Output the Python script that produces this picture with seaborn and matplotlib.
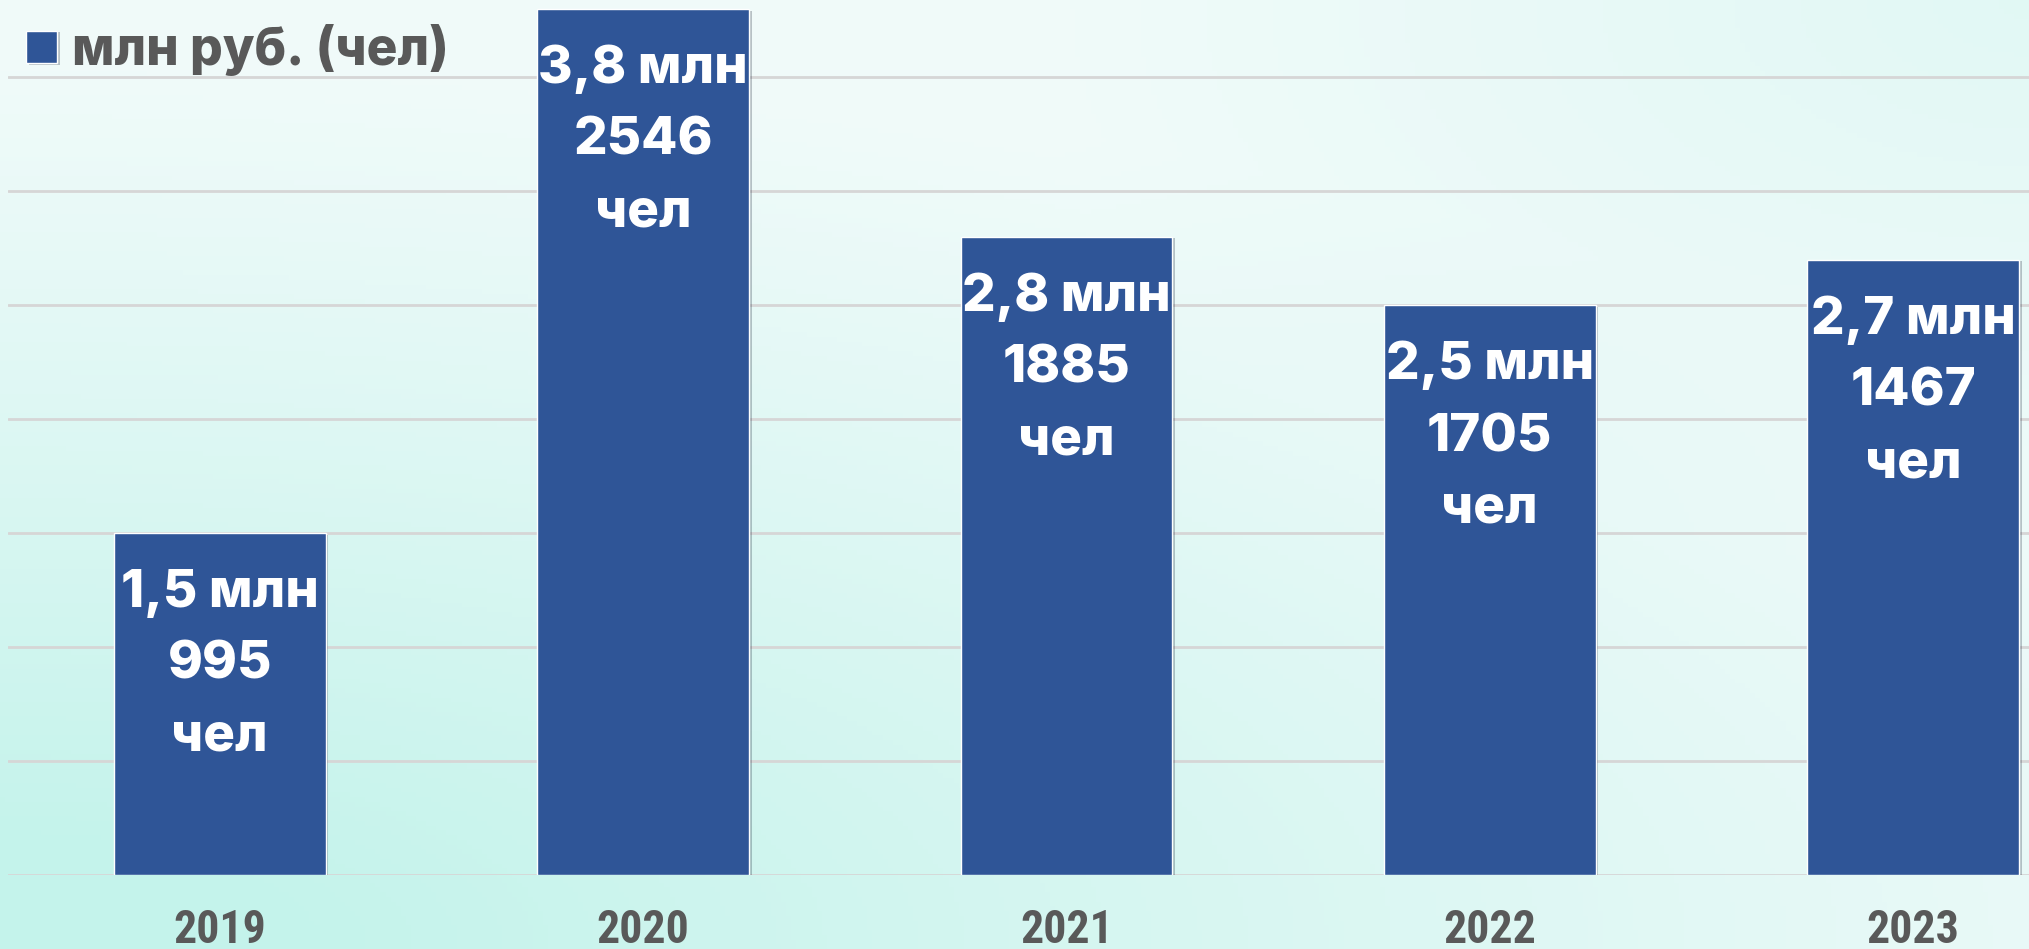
import numpy as np
import pandas as pd
import seaborn as sns
import matplotlib.pyplot as plt
from matplotlib import patheffects as pe

# Data
years = ["2019", "2020", "2021", "2022", "2023"]
money_mln = [1.5, 3.8, 2.8, 2.5, 2.7]
money_text = ["1,5", "3,8", "2,8", "2,5", "2,7"]
people = [995, 2546, 1885, 1705, 1467]
series_name = "млн руб. (чел)"

bar_color = "#2F5597"
text_gray = "#595959"

df = pd.DataFrame({"year": years, "value": money_mln})

sns.set_style("white")
plt.rcParams["font.family"] = ["Inter", "Roboto", "DejaVu Sans"]

W, H = 2029, 949
fig = plt.figure(figsize=(W / 100, H / 100), dpi=100)

# background gradient (mint in the lower left, lighter towards the centre/right)
bg = fig.add_axes([0, 0, 1, 1], zorder=-10)
yy, xx = np.mgrid[0:1:200j, 0:1:400j]
d_bl = np.sqrt((xx / 1.3) ** 2 + ((1 - yy) / 1.0) ** 2)
d_tr = np.sqrt(((1 - xx) / 0.5) ** 2 + (yy / 0.6) ** 2)
w = np.clip(1 - d_bl / 0.95, 0, 1) ** 1.1 + 0.3 * np.clip(1 - d_tr, 0, 1) + 0.12
w = np.clip(w, 0, 1)
base = np.array([247, 252, 252]) / 255
mint = np.array([196, 243, 235]) / 255
img = base[None, None, :] * (1 - w[..., None]) + mint[None, None, :] * w[..., None]
bg.imshow(img, aspect="auto", extent=[0, 1, 0, 1], origin="upper")
bg.axis("off")

ax = fig.add_axes([8 / W, 74 / H, (W - 8) / W, 875 / H])
ax.patch.set_alpha(0)

sns.barplot(data=df, x="year", y="value", color=bar_color, width=0.5,
            saturation=1, label=series_name, ax=ax, zorder=3)

for p in ax.patches:
    p.set_path_effects([pe.SimplePatchShadow(offset=(2, -1), alpha=0.25), pe.Normal()])

ax.set_xlim(-0.5, 4.274)
ax.set_ylim(0, 3.84)
ax.set_yticks(np.arange(0, 3.6, 0.5))
ax.set_yticklabels([])
ax.yaxis.grid(True, color="#d6d6d6", linewidth=2)
ax.set_axisbelow(True)
sns.despine(ax=ax, left=True, bottom=True, top=True, right=True)
ax.tick_params(axis="both", length=0)
ax.tick_params(axis="x", pad=24, labelsize=33, labelcolor=text_gray)
for t in ax.get_xticklabels():
    t.set_fontweight("heavy")
    t.set_family(["Roboto Condensed", "Liberation Sans Narrow", "Roboto", "DejaVu Sans"])
ax.set_xlabel("")
ax.set_ylabel("")

# labels inside bars
for i, (m, n) in enumerate(zip(money_text, people)):
    ax.annotate(f"{m} млн\n{n}\nчел", xy=(i, money_mln[i]), xytext=(0, -132 * 0.72),
                textcoords="offset points", ha="center", va="center",
                fontsize=38, fontweight="heavy", color="white", linespacing=1.6,
                zorder=5)

# legend
leg = ax.legend(loc="upper left", bbox_to_anchor=(26 / W, 1 - 24 / H),
                bbox_transform=fig.transFigure, frameon=False,
                borderpad=0, borderaxespad=0,
                handlelength=0.6, handleheight=0.6, handletextpad=0.3,
                prop={"size": 37, "weight": "heavy"})
for t in leg.get_texts():
    t.set_color(text_gray)

fig.savefig("out.png", dpi=100)
